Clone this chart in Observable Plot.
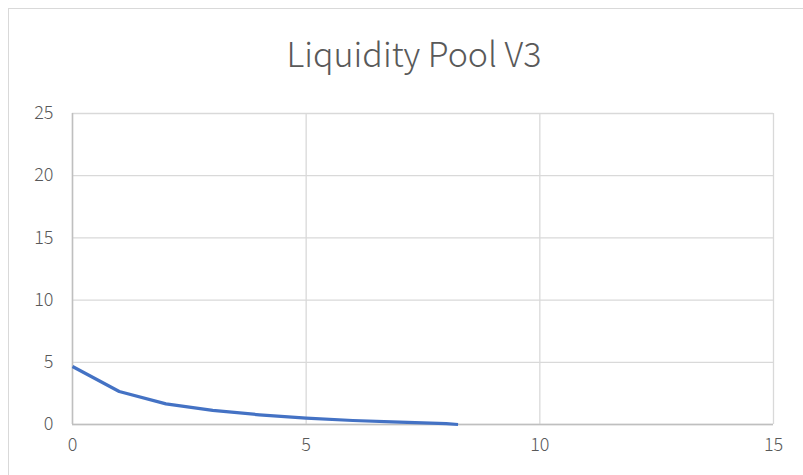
<!DOCTYPE html>
<html>
<head>
<meta charset="utf-8">
<script src="https://cdn.jsdelivr.net/npm/d3@7"></script>
<script src="https://cdn.jsdelivr.net/npm/@observablehq/plot@0.6"></script>
<style>
  html, body { margin: 0; padding: 0; background: #fff; }
  #wrap { position: relative; width: 803px; height: 475px; overflow: hidden; }
  #frame { position: absolute; left: 8px; top: 8px; width: 900px; height: 600px; border-left: 1px solid #d9d9d9; border-top: 1px solid #d9d9d9; }
  #title { position: absolute; left: 0; width: 828px; top: 0; height: 90px; line-height: 106px; text-align: center;
           font-family: "Noto Sans CJK SC", "Noto Sans", sans-serif; font-weight: 300; font-size: 34px; color: #595959; }
  #chart { position: absolute; left: 0; top: 90px; }
</style>
</head>
<body>
<div id="wrap">
  <div id="frame"></div>
  <div id="title">Liquidity Pool V3</div>
  <div id="chart"></div>
</div>
<script>
const title = "Liquidity Pool V3";
const xValues = [0, 1, 2, 3, 4, 5, 6, 7, 8, 8.25];
const yValues = [4.66, 2.65, 1.66, 1.13, 0.78, 0.51, 0.32, 0.19, 0.07, 0.0];
const xTicks = [0, 5, 10, 15];
const yTicks = [0, 5, 10, 15, 20, 25];

const data = xValues.map((x, i) => ({x, y: yValues[i]}));

const plot = Plot.plot({
  width: 803,
  height: 385,
  marginLeft: 72,
  marginRight: 30,
  marginTop: 23,
  marginBottom: 51,
  style: {fontFamily: "'Noto Sans CJK SC', 'Noto Sans', sans-serif", fontSize: "18px", color: "#595959", background: "transparent"},
  x: {domain: [0, 15], ticks: xTicks, label: null},
  y: {domain: [0, 25], ticks: yTicks, label: null},
  marks: [
    Plot.gridX(xTicks, {stroke: "#d9d9d9", strokeOpacity: 1, strokeWidth: 1.3}),
    Plot.gridY(yTicks, {stroke: "#d9d9d9", strokeOpacity: 1, strokeWidth: 1.3}),
    Plot.ruleY([0], {stroke: "#bfbfbf", strokeWidth: 1.5}),
    Plot.ruleX([0], {stroke: "#bfbfbf", strokeWidth: 1.5}),
    Plot.axisX(xTicks, {tickSize: 0, tickPadding: 14, fontWeight: 300, fill: "#595959", label: null}),
    Plot.axisY(yTicks, {tickSize: 0, tickPadding: 19, fontWeight: 300, fill: "#595959", label: null}),
    Plot.line(data, {x: "x", y: "y", stroke: "#4472C4", strokeWidth: 3.2, curve: "linear", strokeLinecap: "butt", strokeLinejoin: "round"})
  ]
});
document.getElementById("chart").appendChild(plot);
</script>
</body>
</html>
